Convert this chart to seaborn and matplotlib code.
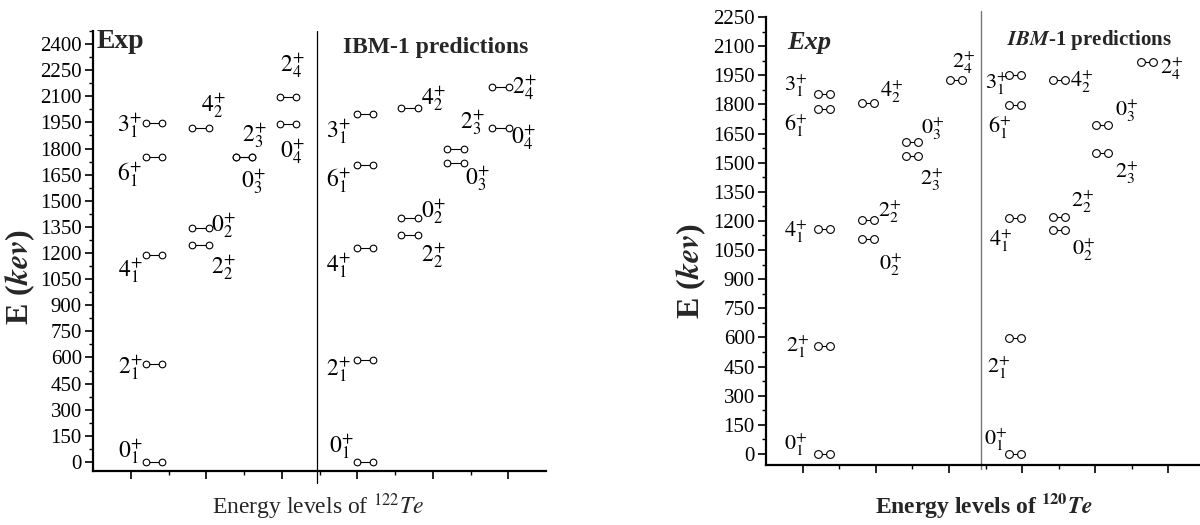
import numpy as np
import pandas as pd
import matplotlib
matplotlib.use("Agg")
import matplotlib.pyplot as plt
from matplotlib.ticker import MultipleLocator, FixedLocator, NullFormatter
import seaborn as sns

# ---------------- data ----------------
# Te-122 experimental levels
te122_exp_J = ['0', '2', '4', '6', '3', '4', '0', '2', '2', '0', '2', '0']
te122_exp_n = [1, 1, 1, 1, 1, 2, 2, 2, 3, 3, 4, 4]
te122_exp_E = [0, 564, 1188, 1751, 1946, 1917, 1343, 1246, 1751, 1751, 2096, 1940]
te122_exp_col = [0, 0, 0, 0, 0, 1, 1, 1, 2, 2, 3, 3]
# Te-122 IBM-1
te122_ibm_J = ['0', '2', '4', '6', '3', '4', '0', '2', '2', '0', '2', '0']
te122_ibm_n = [1, 1, 1, 1, 1, 2, 2, 2, 3, 3, 4, 4]
te122_ibm_E = [0, 585, 1228, 1705, 1998, 2032, 1401, 1303, 1797, 1716, 2153, 1917]
te122_ibm_col = [0, 0, 0, 0, 0, 1, 1, 1, 2, 2, 3, 3]
# Te-120 experimental levels
te120_exp_J = ['0', '2', '4', '6', '3', '4', '2', '0', '0', '2', '2']
te120_exp_n = [1, 1, 1, 1, 1, 2, 2, 2, 3, 3, 4]
te120_exp_E = [0, 556, 1159, 1777, 1854, 1807, 1205, 1107, 1607, 1535, 1926]
te120_exp_col = [0, 0, 0, 0, 0, 1, 1, 1, 2, 2, 3]
# Te-120 IBM-1
te120_ibm_J = ['0', '2', '4', '6', '3', '4', '2', '0', '0', '2', '2']
te120_ibm_n = [1, 1, 1, 1, 1, 2, 2, 2, 3, 3, 4]
te120_ibm_E = [0, 597, 1215, 1797, 1952, 1926, 1220, 1153, 1694, 1550, 2018]
te120_ibm_col = [0, 0, 0, 0, 0, 1, 1, 1, 2, 2, 3]

left_yticks = list(range(0, 2401, 150))
right_yticks = list(range(0, 2251, 150))

# ---------------- layout ----------------
L_exp_centers = [1.62, 2.84, 4.00, 5.17]
L_ibm_centers = [7.21, 8.38, 9.60, 10.80]
R_exp_centers = [1.58, 2.79, 3.99, 5.19]
R_ibm_centers = [6.80, 8.01, 9.18, 10.41]

# label offsets in pixels (dx, dy up)
te122_exp_off = [(-24, 10), (-24, -4), (-24, -15), (-25, -18), (-25, -2), (13, 23),
                 (23, 3), (23, -23), (10, 22), (9, -24), (4, 31), (4, -27)]
te122_ibm_off = [(-24, 15), (-27, -9), (-27, -17), (-27, -15), (-27, -17), (24, 10),
                 (24, 6), (24, -20), (17, 27), (22, -15), (24, 0), (23, -9)]
te120_exp_off = [(-28, 9), (-26, -1), (-28, -3), (-28, -17), (-28, 8), (24, 11),
                 (22, 8), (23, -26), (21, 13), (20, -24), (8, 17)]
te120_ibm_off = [(-19, 14), (-16, -30), (-14, -23), (-15, -23), (-18, -9), (23, -2),
                 (24, 15), (25, -20), (25, 14), (25, -20), (25, -7)]

sns.set_theme(style="ticks")
plt.rcParams['font.family'] = ['Liberation Serif', 'DejaVu Serif']
plt.rcParams['mathtext.fontset'] = 'stix'

W, H = 1200, 525
fig = plt.figure(figsize=(12, 5.25), dpi=100)


def build(J, n, E, col, centers, half, tag):
    rows = []
    for i, (j, k, e, c) in enumerate(zip(J, n, E, col)):
        xc = centers[c]
        rows.append(dict(lvl=f"{tag}{i}", x=xc - half, E=e))
        rows.append(dict(lvl=f"{tag}{i}", x=xc + half, E=e))
    return pd.DataFrame(rows)


def draw_levels(ax, J, n, E, col, centers, half, offs, tag, ms, fs):
    df = build(J, n, E, col, centers, half, tag)
    sns.lineplot(data=df, x='x', y='E', units='lvl', estimator=None, sort=False,
                 color='black', lw=0.8, marker='o', markersize=ms,
                 markerfacecolor='white', markeredgecolor='black',
                 markeredgewidth=0.8, legend=False, ax=ax)
    for j, k, e, c, (dx, dy) in zip(J, n, E, col, offs):
        ax.annotate(rf'${j}_{{{k}}}^{{+}}$', xy=(centers[c], e), xytext=(dx, dy),
                    textcoords='offset pixels', ha='center', va='center',
                    fontsize=fs, color='black')


def style_axis(ax, ylim, yticks, lw):
    ax.set_xlim(0, 12)
    ax.set_ylim(*ylim)
    ax.set_yticks(yticks)
    ax.yaxis.set_minor_locator(MultipleLocator(75))
    ax.xaxis.set_major_locator(FixedLocator([1, 3, 5, 7, 9, 11]))
    ax.xaxis.set_minor_locator(FixedLocator([2, 4, 6, 8, 10]))
    ax.xaxis.set_major_formatter(NullFormatter())
    ax.set_xlabel('')
    ax.set_ylabel('')
    sns.despine(ax=ax)
    for s in ['left', 'bottom']:
        ax.spines[s].set_linewidth(lw)
        ax.spines[s].set_color('black')
    ax.tick_params(which='major', direction='out', length=6, width=1.2,
                   labelsize=15, colors='black', pad=2)
    ax.tick_params(which='minor', direction='out', length=3, width=1.0, colors='black')


# ---------------- left panel (122Te) ----------------
ax1 = fig.add_axes([93 / W, 1 - 471 / H, 453 / W, 440 / H])
draw_levels(ax1, te122_exp_J, te122_exp_n, te122_exp_E, te122_exp_col,
            L_exp_centers, 0.22, te122_exp_off, 'a', 4.8, 17)
draw_levels(ax1, te122_ibm_J, te122_ibm_n, te122_ibm_E, te122_ibm_col,
            L_ibm_centers, 0.22, te122_ibm_off, 'b', 4.8, 17)
style_axis(ax1, (-52, 2475), left_yticks, 1.6)
ax1.axvline(5.94, ymin=-0.027, ymax=1, clip_on=False, color='black', lw=0.9)

fig.text(97 / W, 1 - 42 / H, 'Exp', fontsize=20, fontweight='bold', ha='left', va='center')
fig.text(436 / W, 1 - 47 / H, 'IBM-1 predictions', fontsize=17, fontweight='bold',
         ha='center', va='center')
fig.text(318 / W, 1 - 507 / H, r'Energy levels of $^{122}Te$', fontsize=17,
         ha='center', va='center')
fig.text(20 / W, 1 - 277 / H, r'E ($\mathbfit{kev}$)', fontsize=23, fontweight='bold',
         rotation=90, ha='center', va='center')

# ---------------- right panel (120Te) ----------------
ax2 = fig.add_axes([766 / W, 1 - 465 / H, 439 / W, 448 / H])
draw_levels(ax2, te120_exp_J, te120_exp_n, te120_exp_E, te120_exp_col,
            R_exp_centers, 0.17, te120_exp_off, 'c', 5.6, 16)
draw_levels(ax2, te120_ibm_J, te120_ibm_n, te120_ibm_E, te120_ibm_col,
            R_ibm_centers, 0.17, te120_ibm_off, 'd', 5.6, 16)
style_axis(ax2, (-57, 2250), right_yticks, 1.6)
ax2.axvline(5.87, ymin=-0.01, ymax=1.013, clip_on=False, color='#777777', lw=1.0)

fig.text(787 / W, 1 - 42 / H, 'Exp', fontsize=19, fontweight='bold', fontstyle='italic',
         ha='left', va='center')
fig.text(1090 / W, 1 - 40 / H, r'$\mathbfit{IBM}$-1 predictions', fontsize=15,
         fontweight='bold', ha='center', va='center')
fig.text(984 / W, 1 - 505 / H, r'Energy levels of $^{\mathbf{120}}\mathbfit{Te}$',
         fontsize=17, fontweight='bold', ha='center', va='center')
fig.text(691 / W, 1 - 271 / H, r'E ($\mathbfit{kev}$)', fontsize=23, fontweight='bold',
         rotation=90, ha='center', va='center')

fig.savefig('out.png', dpi=100)
